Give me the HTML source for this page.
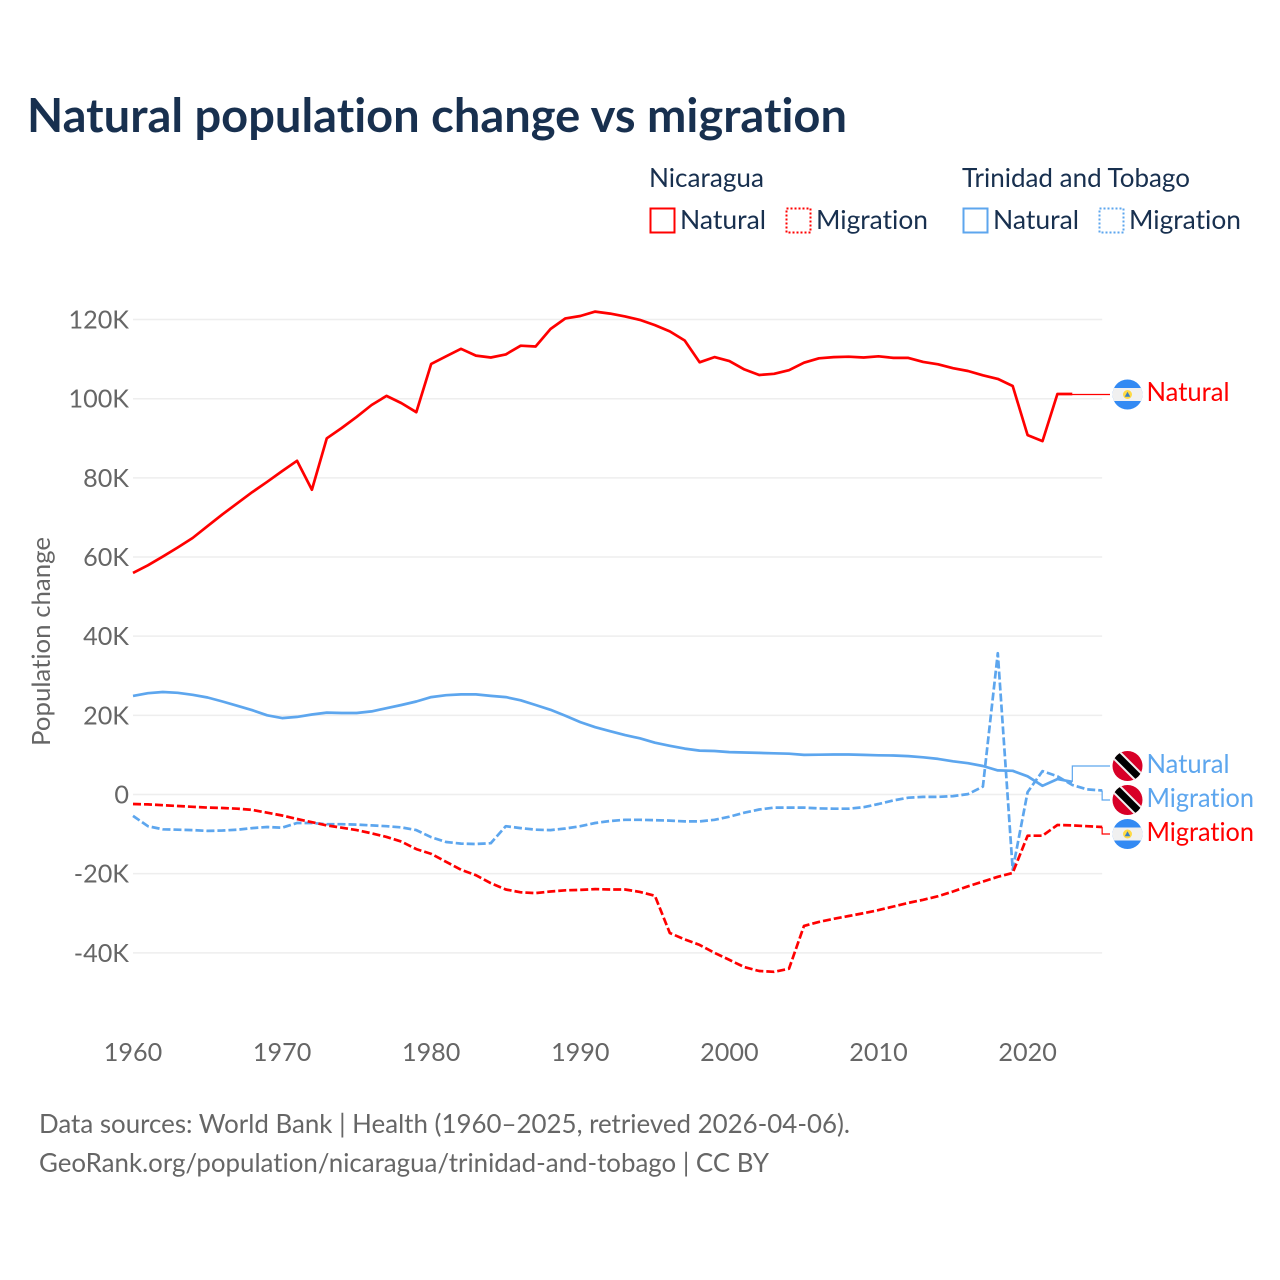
<!DOCTYPE html>
<html lang="en">
<head>
<meta charset="utf-8">
<title>Natural population change vs migration</title>
<style>
html,body{margin:0;padding:0;background:#fff;}
svg{display:block;}
text{font-family:"Lato","Carlito","Liberation Sans",sans-serif;font-variant-ligatures:none;}
</style>
</head>
<body>
<svg id="chart" xmlns="http://www.w3.org/2000/svg" width="1280" height="1280" viewBox="0 0 1280 1280">
  <defs>
    <clipPath id="flag-clip"><circle cx="0" cy="0" r="15"/></clipPath>
  </defs>
  <rect width="1280" height="1280" fill="#ffffff"/>
  <text x="27" y="132" font-size="46.5" font-weight="700" fill="#18304f" textLength="820" lengthAdjust="spacingAndGlyphs">Natural population change vs migration</text>

  <g font-size="26.5" fill="#18304f">
    <text x="649" y="187" textLength="115" lengthAdjust="spacingAndGlyphs">Nicaragua</text>
    <text x="962" y="187" textLength="228" lengthAdjust="spacingAndGlyphs">Trinidad and Tobago</text>
    <rect x="650.5" y="208.5" width="24" height="24" fill="none" stroke="#ff0000" stroke-width="2"/>
    <text x="680" y="229" textLength="86" lengthAdjust="spacingAndGlyphs">Natural</text>
    <rect x="786.5" y="208.5" width="24" height="24" fill="none" stroke="#ff0000" stroke-width="2" stroke-dasharray="2 2"/>
    <text x="816" y="229" textLength="112" lengthAdjust="spacingAndGlyphs">Migration</text>
    <rect x="963.5" y="208.5" width="24" height="24" fill="none" stroke="#5da6ee" stroke-width="2"/>
    <text x="993" y="229" textLength="86" lengthAdjust="spacingAndGlyphs">Natural</text>
    <rect x="1099.5" y="208.5" width="24" height="24" fill="none" stroke="#5da6ee" stroke-width="2" stroke-dasharray="2 2"/>
    <text x="1129" y="229" textLength="112" lengthAdjust="spacingAndGlyphs">Migration</text>
  </g>

  <g id="grid"></g>
  <g id="y-ticks" font-size="25.2" fill="#666666" text-anchor="end"></g>
  <g id="x-ticks" font-size="25.2" fill="#666666" text-anchor="middle"></g>
  <text transform="translate(50,641.5) rotate(-90)" font-size="25.5" fill="#666666" text-anchor="middle" textLength="209" lengthAdjust="spacingAndGlyphs">Population change</text>
  <g id="series"></g>
  <g id="end-labels"></g>

  <text x="39" y="1133" font-size="26" fill="#666666" textLength="811" lengthAdjust="spacingAndGlyphs">Data sources: World Bank | Health (1960–2025, retrieved 2026-04-06).</text>
  <text x="39" y="1172" font-size="26" fill="#666666" textLength="730" lengthAdjust="spacingAndGlyphs">GeoRank.org/population/nicaragua/trinidad-and-tobago | CC BY</text>
</svg>
<script>
const years = [1960,1961,1962,1963,1964,1965,1966,1967,1968,1969,1970,1971,1972,1973,1974,1975,1976,1977,1978,1979,1980,1981,1982,1983,1984,1985,1986,1987,1988,1989,1990,1991,1992,1993,1994,1995,1996,1997,1998,1999,2000,2001,2002,2003,2004,2005,2006,2007,2008,2009,2010,2011,2012,2013,2014,2015,2016,2017,2018,2019,2020,2021,2022,2023,2024,2025];
const yTickValues = [120,100,80,60,40,20,0,-20,-40];
const xTickValues = [1960,1970,1980,1990,2000,2010,2020];
const nicaraguaNatural = [56,57.9,60.1,62.4,64.8,67.8,70.8,73.6,76.4,79,81.7,84.3,77,90,92.6,95.4,98.4,100.7,98.9,96.6,108.8,110.7,112.6,110.9,110.4,111.2,113.4,113.2,117.6,120.3,120.9,122,121.5,120.8,119.9,118.6,117,114.7,109.2,110.5,109.5,107.4,106,106.3,107.2,109.1,110.2,110.5,110.6,110.4,110.7,110.3,110.3,109.3,108.7,107.7,107,105.9,105,103.2,90.8,89.3,101.2,101.2];
const nicaraguaMigration = [-2.4,-2.5,-2.7,-2.9,-3.1,-3.3,-3.4,-3.6,-3.9,-4.6,-5.3,-6.2,-7,-7.8,-8.4,-9,-9.8,-10.7,-11.9,-13.8,-15,-17,-19,-20.4,-22.4,-24,-24.7,-24.9,-24.5,-24.2,-24.1,-23.9,-24,-24,-24.6,-25.6,-35,-36.6,-38,-40,-41.8,-43.6,-44.6,-44.8,-44,-33.2,-32.2,-31.4,-30.7,-30,-29.2,-28.3,-27.4,-26.6,-25.7,-24.5,-23.2,-22,-20.8,-19.8,-10.4,-10.4,-7.7,-7.8,-8,-8.2];
const trinidadNatural = [24.9,25.6,25.9,25.7,25.2,24.5,23.5,22.4,21.3,20,19.3,19.6,20.2,20.7,20.6,20.6,21,21.8,22.6,23.5,24.6,25.1,25.3,25.3,24.9,24.6,23.8,22.6,21.4,19.9,18.3,17,16,15,14.2,13.1,12.3,11.6,11.1,11,10.7,10.6,10.5,10.4,10.3,10,10.05,10.1,10.1,10,9.9,9.85,9.7,9.4,9,8.4,7.9,7.2,6.1,6,4.6,2.2,3.9,3.2];
const trinidadMigration = [-5.4,-8,-8.8,-8.9,-9,-9.2,-9.1,-8.9,-8.5,-8.2,-8.4,-7.2,-7.2,-7.5,-7.5,-7.6,-7.8,-8,-8.3,-9,-10.8,-12,-12.4,-12.5,-12.3,-8,-8.5,-8.9,-9,-8.6,-8,-7.2,-6.7,-6.4,-6.4,-6.5,-6.6,-6.8,-6.8,-6.4,-5.6,-4.6,-3.8,-3.3,-3.3,-3.3,-3.5,-3.6,-3.6,-3.2,-2.4,-1.5,-0.8,-0.6,-0.6,-0.4,0.1,2,35.7,-19,0.6,5.9,4.6,2.4,1.3,1];

const NS = 'http://www.w3.org/2000/svg';
const RED = '#ff0000';
const BLUE = '#5da6ee';
const x = year => 133 + (year - 1960) * 14.91;
const y = value => 794.5 - value * 3.958;

function make(tag, attrs, parent) {
  const el = document.createElementNS(NS, tag);
  for (const k in attrs) el.setAttribute(k, attrs[k]);
  parent.appendChild(el);
  return el;
}

const gridG = document.getElementById('grid');
const yTickG = document.getElementById('y-ticks');
const xTickG = document.getElementById('x-ticks');
yTickValues.forEach(v => {
  const line = make('line', {x1: 133, x2: x(2025), y1: y(v), y2: y(v), stroke: '#eeeeee', 'stroke-width': 1.5}, gridG);
  
  
  const label = make('text', {x: 129, y: y(v) + 9}, yTickG);
  
  
  label.textContent = v === 0 ? '0' : v + 'K';
});
xTickValues.forEach(t => {
  const label = make('text', {x: x(t), y: 1061}, xTickG);
  
  
  label.textContent = String(t);
});

const seriesG = document.getElementById('series');
const labelsG = document.getElementById('end-labels');

function drawSeries(values, color, dashed, name) {
  const pts = values.map((v, i) => x(years[i]).toFixed(1) + ',' + y(v).toFixed(1)).join(' ');
  const line = make('polyline', {points: pts, fill: 'none', stroke: color, 'stroke-width': 2.7, 'stroke-linejoin': 'round'}, seriesG);
  if (dashed) line.setAttribute('stroke-dasharray', '8 3');
  
  
}
drawSeries(trinidadNatural, BLUE, false, 'line-trinidad-natural');
drawSeries(trinidadMigration, BLUE, true, 'line-trinidad-migration');
drawSeries(nicaraguaNatural, RED, false, 'line-nicaragua-natural');
drawSeries(nicaraguaMigration, RED, true, 'line-nicaragua-migration');

function drawConnector(values, labelY, color, name) {
  const i = values.length - 1;
  const lx = x(years[i]);
  const ly = y(values[i]);
  const path = make('path', {d: 'M' + lx + ' ' + ly + ' L' + lx + ' ' + labelY + ' L1110 ' + labelY, fill: 'none', stroke: color, 'stroke-width': 1.2}, labelsG);
  
  
}
drawConnector(nicaraguaNatural, 394.5, RED, 'connector-nicaragua-natural');
drawConnector(trinidadNatural, 766, BLUE, 'connector-trinidad-natural');
drawConnector(trinidadMigration, 800, BLUE, 'connector-trinidad-migration');
drawConnector(nicaraguaMigration, 834, RED, 'connector-nicaragua-migration');

function drawNicaraguaFlag(cy) {
  const g = make('g', {transform: 'translate(1127.5,' + cy + ')', 'clip-path': 'url(#flag-clip)'}, labelsG);
  
  
  make('rect', {x: -15, y: -15, width: 30, height: 30, fill: '#338af3'}, g);
  make('rect', {x: -15, y: -6.5, width: 30, height: 13, fill: '#f0f0f0'}, g);
  make('circle', {cx: 0, cy: 0, r: 4.5, fill: '#ffda44'}, g);
  make('path', {d: 'M0 -2.8 L2.8 2.2 L-2.8 2.2 Z', fill: '#3b7fc4'}, g);
}
function drawTrinidadFlag(cy) {
  const g = make('g', {transform: 'translate(1127.5,' + cy + ')', 'clip-path': 'url(#flag-clip)'}, labelsG);
  
  
  make('rect', {x: -15, y: -15, width: 30, height: 30, fill: '#d80027'}, g);
  make('line', {x1: -14, y1: -14, x2: 14, y2: 14, stroke: '#f0f0f0', 'stroke-width': 11}, g);
  make('line', {x1: -14, y1: -14, x2: 14, y2: 14, stroke: '#000000', 'stroke-width': 7}, g);
}
drawNicaraguaFlag(394.5);
drawTrinidadFlag(766);
drawTrinidadFlag(800);
drawNicaraguaFlag(834);

function drawLabel(text, baseline, color, width, name) {
  const t = make('text', {x: 1146.5, y: baseline, 'font-size': 26.5, fill: color, textLength: width, lengthAdjust: 'spacingAndGlyphs'}, labelsG);
  
  
  t.textContent = text;
}
drawLabel('Natural', 401, RED, 83, 'end-label-nicaragua-natural');
drawLabel('Natural', 773, BLUE, 83, 'end-label-trinidad-natural');
drawLabel('Migration', 807, BLUE, 107.5, 'end-label-trinidad-migration');
drawLabel('Migration', 841, RED, 107.5, 'end-label-nicaragua-migration');
</script>
</body>
</html>
